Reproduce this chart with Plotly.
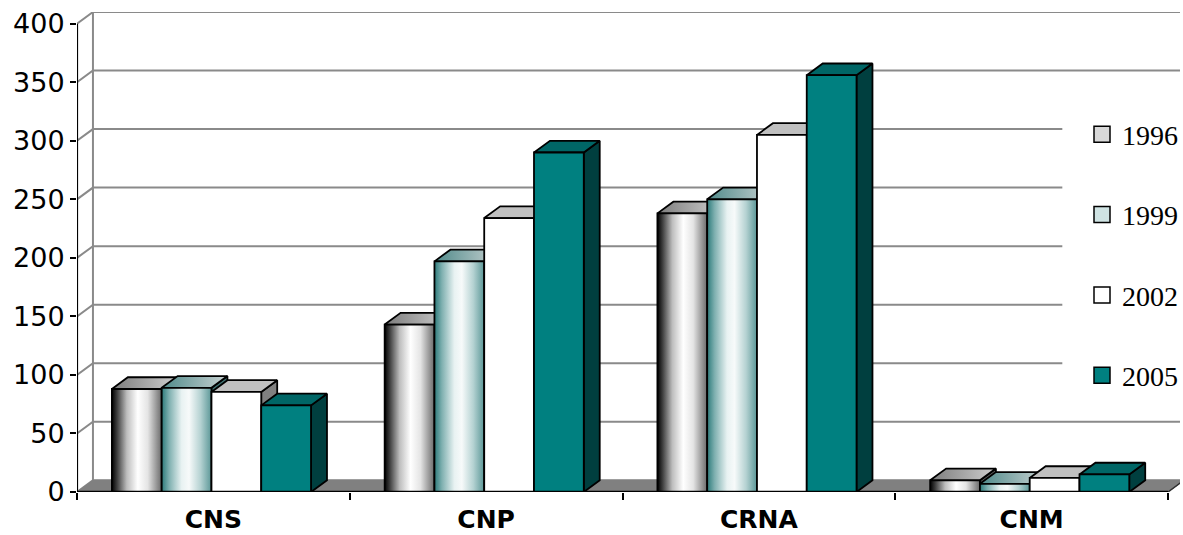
import plotly.graph_objects as go

# ---- data -------------------------------------------------------------
categories = ["CNS", "CNP", "CRNA", "CNM"]
years = ["1996", "1999", "2002", "2005"]
values = {
    "1996": [88, 143, 238, 10],
    "1999": [89, 197, 250, 7],
    "2002": [85.5, 234, 305, 12],
    "2005": [74, 290, 356, 15],
}
y_ticks = [0, 50, 100, 150, 200, 250, 300, 350, 400]

# ---- styling ----------------------------------------------------------
front_style = {
    "1996": dict(gradient=[[0, "#000000"], [0.1, "#3c3c3c"], [0.3, "#bdbdbd"],
                           [0.52, "#ffffff"], [0.72, "#e4e4e4"], [1, "#6a6a6a"]]),
    "1999": dict(gradient=[[0, "#2c7a7a"], [0.15, "#7fb0b0"], [0.4, "#e8f2f2"],
                           [0.55, "#f7fafa"], [0.78, "#b5d2d2"], [1, "#5b9797"]]),
    "2002": dict(color="#ffffff"),
    "2005": dict(color="#008080"),
}
top_style = {
    "1996": dict(gradient=[[0, "#7c7c7c"], [1, "#cfcfcf"]]),
    "1999": dict(gradient=[[0, "#4f8a8a"], [1, "#c9d2d2"]]),
    "2002": dict(color="#c0c0c0"),
    "2005": dict(color="#006666"),
}
side_color = {"1996": "#5a5a5a", "1999": "#3f6f6f", "2002": "#808080", "2005": "#003f3f"}
legend_color = {"1996": "#d8d8d8", "1999": "#cfe3e3", "2002": "#ffffff", "2005": "#008080"}

DX = 0.0585     # depth offset along x (category units)
DY = 10         # depth offset along y (value units)
X_MAX = 4.044
Y_MAX = 410
BAR_W = 0.1825
GROUP_OFFSET = 0.128
EDGE = dict(color="black", width=1.8)

fig = go.Figure()


def poly(xs, ys, style, line=EDGE, clip=True):
    kw = dict(x=xs + [xs[0]], y=ys + [ys[0]], mode="lines", fill="toself",
              line=line, hoverinfo="skip", showlegend=False, cliponaxis=clip)
    if "gradient" in style:
        kw["fillgradient"] = dict(type="horizontal", colorscale=style["gradient"])
        kw["fillcolor"] = style["gradient"][len(style["gradient"]) // 2][1]
    else:
        kw["fillcolor"] = style["color"]
    fig.add_trace(go.Scatter(**kw))


# back wall and left wall gridlines
gx, gy = [], []
for v in y_ticks:
    gx += [0, DX, X_MAX, None]
    gy += [v, v + DY, v + DY, None]
gx += [DX, DX, None]
gy += [DY, y_ticks[-1] + DY, None]
fig.add_trace(go.Scatter(x=gx, y=gy, mode="lines", line=dict(color="#8a8a8a", width=2),
                         hoverinfo="skip", showlegend=False, cliponaxis=False))

# floor
n = len(categories)
poly([0, n, n + DX, DX], [0, 0, DY, DY], dict(color="#808080"),
     line=dict(color="#808080", width=1))
fig.add_trace(go.Scatter(x=[n, n + DX], y=[0, DY], mode="lines",
                         line=dict(color="#303030", width=1.5),
                         hoverinfo="skip", showlegend=False))

# 3-D columns, painted left to right
for ci, cat in enumerate(categories):
    for yi, yr in enumerate(years):
        v = values[yr][ci]
        x0 = ci + GROUP_OFFSET + yi * BAR_W
        x1 = x0 + BAR_W
        poly([x1, x1 + DX, x1 + DX, x1], [0, DY, v + DY, v], dict(color=side_color[yr]))
        poly([x0, x1, x1 + DX, x0 + DX], [v, v, v + DY, v + DY], top_style[yr])
        poly([x0, x1, x1, x0], [0, 0, v, v], front_style[yr])

# value axis line and category axis line
fig.add_trace(go.Scatter(x=[0, 0], y=[0, y_ticks[-1]], mode="lines",
                         line=dict(color="black", width=2.2), hoverinfo="skip",
                         showlegend=False, cliponaxis=False))
fig.add_trace(go.Scatter(x=[0, n], y=[0, 0], mode="lines",
                         line=dict(color="black", width=2.5), hoverinfo="skip",
                         showlegend=False, cliponaxis=False))

# legend entries
for yr in years:
    fig.add_trace(go.Scatter(x=[None], y=[None], mode="markers", name=yr,
                             legendgroup=yr,
                             marker=dict(symbol="square", size=16, color=legend_color[yr],
                                         line=dict(color="black", width=1.5))))

# white panel behind the legend
PLOT_L, PLOT_W, PLOT_B, PLOT_H = 77, 1106, 492, 480
fig.add_shape(type="rect", xref="paper", yref="paper", layer="above",
              x0=(1065 - PLOT_L) / PLOT_W, x1=1.0,
              y0=(PLOT_B - 395) / PLOT_H, y1=(PLOT_B - 98) / PLOT_H,
              fillcolor="white", line=dict(width=0))

fig.update_layout(
    width=1183, height=535,
    margin=dict(l=77, r=0, t=12, b=43),
    paper_bgcolor="white", plot_bgcolor="white",
    xaxis=dict(range=[0, X_MAX], showgrid=False, zeroline=False, showline=False,
               automargin=False,
               tickmode="array", tickvals=[i + 0.5 for i in range(n)], ticktext=categories,
               ticks="", ticklabelstandoff=10,
               tickfont=dict(family="DejaVu Sans", size=25, color="black", weight="bold"),
               minor=dict(tickmode="array", tickvals=list(range(n + 1)), ticks="outside",
                          ticklen=7, tickwidth=2, tickcolor="black", showgrid=False),
               fixedrange=True),
    yaxis=dict(range=[0, Y_MAX], showgrid=False, zeroline=False, showline=False,
               automargin=False,
               tickmode="array", tickvals=y_ticks, ticks="outside", ticklen=6,
               tickwidth=2, tickcolor="black",
               tickfont=dict(family="DejaVu Sans", size=27, color="black"),
               fixedrange=True),
    legend=dict(x=(1085 - PLOT_L) / PLOT_W, xanchor="left", y=0.797, yanchor="top",
                bgcolor="rgba(0,0,0,0)", tracegroupgap=41, itemsizing="trace",
                font=dict(family="Liberation Serif", size=28, color="black")),
    showlegend=True,
)

fig.write_html("out.html")
